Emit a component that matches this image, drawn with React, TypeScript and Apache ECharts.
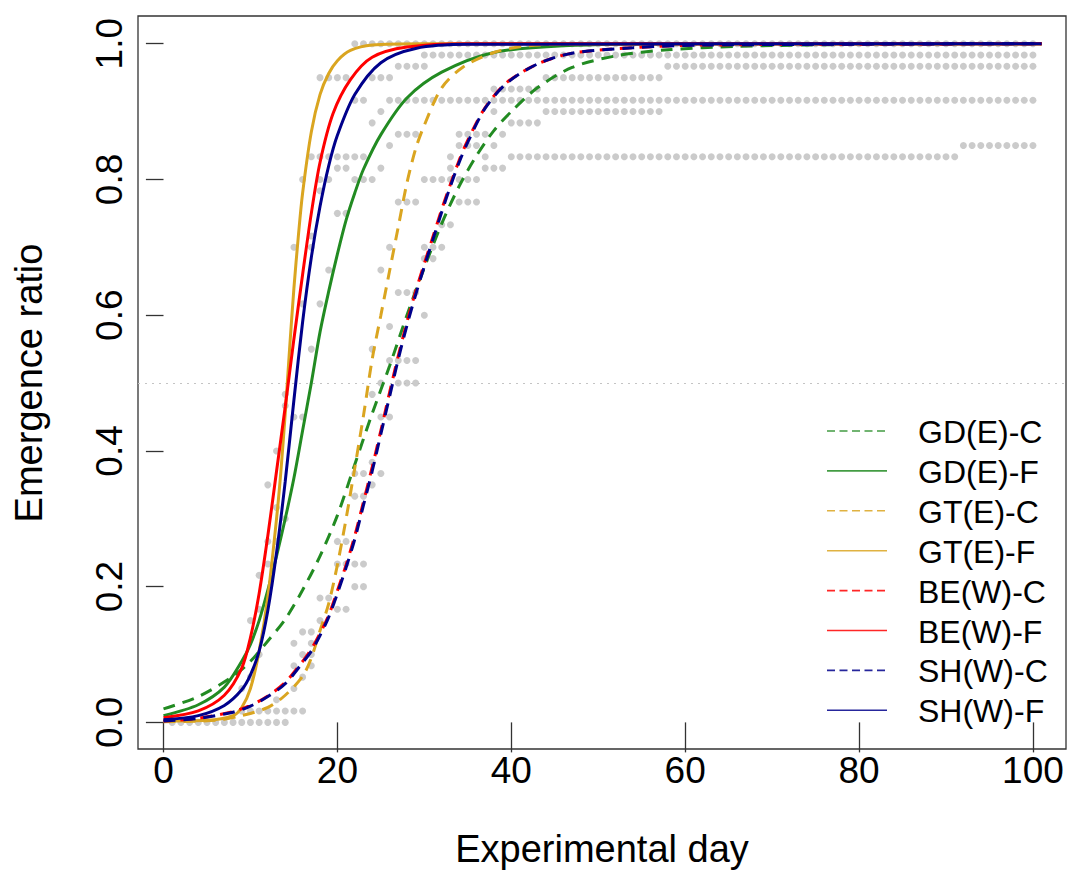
import React, { useEffect, useRef } from "react";
import * as echarts from "echarts";

// ---------- data ----------
const seriesNames = ["GD(E)-C", "GD(E)-F", "GT(E)-C", "GT(E)-F", "BE(W)-C", "BE(W)-F", "SH(W)-C", "SH(W)-F"];
const seriesColors = ["#228B22", "#228B22", "#DAA520", "#DAA520", "#FF0000", "#FF0000", "#00008B", "#00008B"];
const seriesDashed = [true, false, true, false, true, false, true, false];

const gdC: [number, number][] = [
  [0, 0.02], [4, 0.038], [8, 0.068], [10, 0.09], [12, 0.12], [14, 0.152], [16, 0.195], [18, 0.245],
  [20, 0.305], [22, 0.38], [24, 0.455], [26, 0.525], [28, 0.6], [30, 0.67], [32, 0.735], [34, 0.79],
  [36, 0.835], [38, 0.872], [40, 0.9], [43, 0.935], [47, 0.965], [52, 0.982], [58, 0.991], [66, 0.996],
  [80, 0.999], [101, 1.0],
];
const gdF: [number, number][] = [
  [0, 0.01], [4, 0.026], [7, 0.052], [9, 0.09], [10, 0.115], [11, 0.15], [12, 0.195], [13, 0.245],
  [14, 0.3], [15, 0.36], [16, 0.43], [17, 0.5], [18, 0.575], [19, 0.635], [20, 0.69], [21, 0.74],
  [22, 0.78], [23, 0.815], [25, 0.866], [28, 0.92], [32, 0.958], [38, 0.987], [46, 0.997], [60, 1.0], [101, 1.0],
];
const gtC: [number, number][] = [
  [0, 0.001], [6, 0.003], [9, 0.01], [12, 0.022], [14, 0.04], [16, 0.068], [17, 0.095], [18, 0.135],
  [19, 0.175], [20, 0.232], [21, 0.3], [22, 0.375], [23, 0.452], [24, 0.535], [25, 0.6], [26, 0.665],
  [27, 0.73], [28, 0.795], [29, 0.845], [30, 0.88], [32, 0.935], [34.5, 0.966], [38, 0.987], [42, 0.997],
  [50, 1.0], [101, 1.0],
];
const gtF: [number, number][] = [
  [0, 0.002], [5, 0.003], [8, 0.01], [9, 0.022], [10, 0.05], [11, 0.105], [12, 0.185], [13, 0.3],
  [13.5, 0.37], [14, 0.455], [14.5, 0.55], [15, 0.64], [15.5, 0.715], [16, 0.78], [17, 0.87], [18, 0.925],
  [19, 0.956], [20, 0.975], [21.5, 0.99], [24, 0.998], [30, 1.0], [101, 1.0],
];
const beC: [number, number][] = [
  [0, 0.002], [4, 0.006], [8, 0.016], [10, 0.025], [12, 0.039], [14, 0.059], [16, 0.09], [17, 0.108],
  [18, 0.131], [19, 0.158], [20, 0.194], [21, 0.232], [22, 0.275], [23, 0.325], [24, 0.376], [25, 0.43],
  [26, 0.486], [27, 0.54], [28, 0.59], [29, 0.635], [30, 0.676], [31, 0.716], [32, 0.756], [33, 0.793],
  [34, 0.828], [35, 0.858], [37, 0.906], [39.5, 0.943], [43, 0.97], [47, 0.986], [54, 0.994], [62, 0.998], [101, 1.0],
];
const beF: [number, number][] = [
  [0, 0.007], [4, 0.017], [7, 0.04], [9, 0.08], [10, 0.125], [11, 0.19], [12, 0.275], [13, 0.37],
  [14, 0.465], [15, 0.565], [16, 0.66], [17, 0.75], [18, 0.825], [19.5, 0.897], [21.5, 0.947], [24, 0.98],
  [28, 0.995], [35, 1.0], [101, 1.0],
];
const shC: [number, number][] = [
  [0, 0.002], [4, 0.006], [8, 0.015], [10, 0.024], [12, 0.038], [14, 0.057], [16, 0.088], [17, 0.105],
  [18, 0.128], [19, 0.155], [20, 0.19], [21, 0.228], [22, 0.27], [23, 0.32], [24, 0.37], [25, 0.425],
  [26, 0.48], [27, 0.535], [28, 0.585], [29, 0.63], [30, 0.672], [31, 0.712], [32, 0.752], [33, 0.79],
  [34, 0.825], [35, 0.855], [37, 0.905], [39.5, 0.942], [43, 0.97], [47, 0.986], [54, 0.994], [62, 0.998], [101, 1.0],
];
const shF: [number, number][] = [
  [0, 0.004], [4, 0.01], [7, 0.025], [9, 0.048], [10, 0.07], [11, 0.105], [12, 0.165], [13, 0.25],
  [14, 0.355], [15, 0.475], [16, 0.59], [17, 0.685], [18, 0.76], [19, 0.82], [20, 0.865], [22, 0.925],
  [25, 0.972], [29, 0.993], [35, 0.999], [101, 1.0],
];
const curveData = [gdC, gdF, gtC, gtF, beC, beF, shC, shF];

// observed emergence: [emerged out of 60, days on which that level was observed]
const obsRows: [number, string][] = [
  [60, "22-100"], [59, "30-100"], [58, "27-30,58-100"], [57, "18-21,24-26,44-57"], [56, "38-43"],
  [55, "22,23,26-100"], [54, "25,38,44-57"], [53, "24,40-43"], [52, "27-29,34-37,39"],
  [51, "26,34-36,38,92-100"], [50, "17-23,33,37,40-91"], [49, "20,21,25,33,37-39"],
  [48, "16,18,19,22-24,30-36"], [47, "18"], [46, "27-29,34-36"], [45, "20,21"], [44, "32,33"],
  [43, "17"], [42, "15,17,26,30-32"], [41, "30,31"], [40, "19,25"], [38, "27-29"], [37, "16,18"],
  [36, "30"], [35, "26"], [33, "17,24"], [32, "26-29"], [30, "25,27-29"], [29, "14,24"], [28, "14"],
  [27, "15,16,25,26"], [24, "13"], [23, "24"], [22, "22,23,25"], [21, "12,24"], [20, "22,23"],
  [19, "13"], [18, "14"], [16, "12,13,20,21"], [14, "12,20-23"], [13, "11"], [12, "22,23"],
  [11, "18,19"], [10, "11,20,21"], [9, "10,18"], [8, "16,17"], [7, "15,17"], [6, "11,16,17"],
  [5, "15,17"], [4, "10,16"], [3, "9,15"], [2, "13"], [1, "9-16"], [0, "1-14"],
];
const obsTotal = 60;

const xTicks = [0, 20, 40, 60, 80, 100];
const yTicks = [0, 0.2, 0.4, 0.6, 0.8, 1.0];
const refLevel = 0.5;
const xTitle = "Experimental day";
const yTitle = "Emergence ratio";

// ---------- helpers ----------
function expandDays(spec: string): number[] {
  const out: number[] = [];
  spec.split(",").forEach((part) => {
    const [a, b] = part.trim().split("-").map(Number);
    if (b === undefined || isNaN(b)) out.push(a);
    else for (let d = a; d <= b; d++) out.push(d);
  });
  return out;
}

const FONT = "'Liberation Sans', Arial, Helvetica, sans-serif";

export default function App() {
  const ref = useRef<HTMLDivElement>(null);

  useEffect(() => {
    document.body.style.margin = "0";
    const chart = echarts.init(ref.current as HTMLDivElement, null, { renderer: "svg" });

    const obsPoints: [number, number][] = [];
    obsRows.forEach(([k, spec]) => {
      expandDays(spec).forEach((d) => obsPoints.push([d, k / obsTotal]));
    });

    const lineSeries = seriesNames.map((name, i) => ({
      name,
      type: "line",
      data: curveData[i],
      smooth: 0.3,
      symbol: "none",
      silent: true,
      z: 3 + i,
      lineStyle: {
        color: seriesColors[i],
        width: 3,
        type: seriesDashed[i] ? [12, 8] : "solid",
        dashOffset: name === "BE(W)-C" ? 3 : 0,
        cap: "butt",
      },
    }));

    const legendTop = 431;
    const legendStep = 39.9;
    const legendGraphics: any[] = [];
    seriesNames.forEach((name, i) => {
      const y = legendTop + i * legendStep;
      legendGraphics.push({
        type: "line",
        shape: { x1: 827, y1: y, x2: 887, y2: y },
        style: {
          stroke: seriesColors[i],
          lineWidth: 1.6,
          lineDash: seriesDashed[i] ? [8, 4.5] : null,
          opacity: 0.85,
        },
        silent: true,
      });
      legendGraphics.push({
        type: "text",
        x: 918,
        y: y + 1,
        style: {
          text: name,
          fontSize: 32,
          fontFamily: FONT,
          fill: "#000",
          align: "left",
          verticalAlign: "middle",
          textAlign: "left",
          textVerticalAlign: "middle",
        },
        silent: true,
      });
    });

    const option: any = {
      animation: false,
      backgroundColor: "#ffffff",
      grid: {
        left: 138,
        top: 16,
        width: 928,
        height: 733,
        show: true,
        borderColor: "#333",
        borderWidth: 1.3,
        backgroundColor: "transparent",
      },
      xAxis: {
        type: "value",
        min: -2.933,
        max: 103.8,
        splitLine: { show: false },
        axisLine: { show: false },
        axisTick: {
          show: true,
          length: 30,
          customValues: xTicks,
          lineStyle: { color: "#333", width: 1.3 },
        },
        axisLabel: {
          customValues: xTicks,
          fontSize: 37,
          fontFamily: FONT,
          color: "#000",
          margin: 3,
        },
      },
      yAxis: {
        type: "value",
        min: -0.0392,
        max: 1.0408,
        splitLine: { show: false },
        axisLine: { show: false },
        axisTick: {
          show: true,
          length: 17.6,
          customValues: yTicks,
          lineStyle: { color: "#333", width: 1.3 },
        },
        axisLabel: {
          customValues: yTicks,
          rotate: 90,
          fontSize: 37,
          fontFamily: FONT,
          color: "#000",
          margin: 9.6,
          formatter: (v: number) => v.toFixed(1),
        },
      },
      series: [
        {
          name: "observed",
          type: "scatter",
          data: obsPoints,
          symbol: "circle",
          symbolSize: 7,
          silent: true,
          z: 2,
          itemStyle: { color: "#BEBEBE" },
          markLine: {
            silent: true,
            symbol: "none",
            label: { show: false },
            z: 1,
            lineStyle: { color: "#C4C4C4", width: 1, type: [2, 5] },
            data: [{ yAxis: refLevel }],
          },
        },
        ...lineSeries,
      ],
      graphic: [
        ...legendGraphics,
        {
          type: "text",
          x: 602,
          y: 849,
          style: {
            text: xTitle,
            fontSize: 38,
            fontFamily: FONT,
            fill: "#000",
            align: "center",
            verticalAlign: "middle",
            textAlign: "center",
            textVerticalAlign: "middle",
          },
          silent: true,
        },
        {
          type: "text",
          x: 29,
          y: 383,
          rotation: Math.PI / 2,
          style: {
            text: yTitle,
            fontSize: 38,
            fontFamily: FONT,
            fill: "#000",
            align: "center",
            verticalAlign: "middle",
            textAlign: "center",
            textVerticalAlign: "middle",
          },
          silent: true,
        },
      ],
    };

    chart.setOption(option);
    return () => chart.dispose();
  }, []);

  return <div ref={ref} style={{ width: 1067, height: 871 }} />;
}
